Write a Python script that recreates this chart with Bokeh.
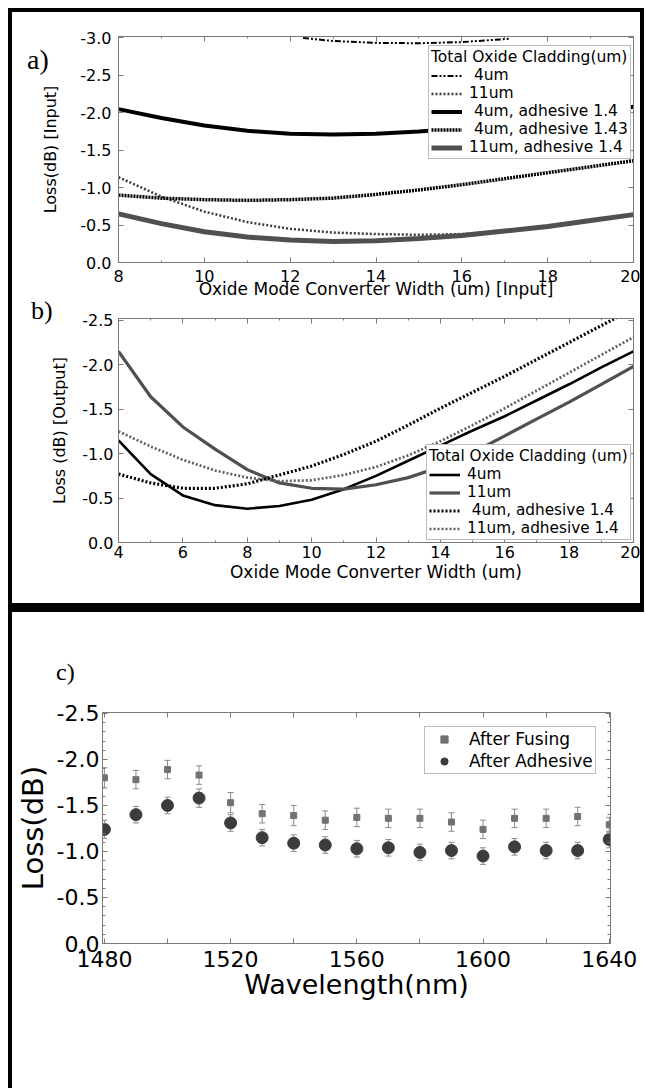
from bokeh.plotting import figure
from bokeh.models import (Range1d, LinearAxis, SingleIntervalTicker, FixedTicker,
                          PrintfTickFormatter, Legend, LegendItem, Whisker,
                          TeeHead, ColumnDataSource, Div)
from bokeh.layouts import column, row
from bokeh.embed import file_html
from bokeh.resources import INLINE

SANS = "DejaVu Sans"
SERIF = "Liberation Serif"
AXC = "#7a7a7a"
DARK_GRAY = "#505050"

# ---------------- Panel a data ----------------
a_width = [8, 9, 10, 11, 12, 13, 14, 15, 16, 17, 18, 19, 20]
a_4um_width = [12.3, 13, 14, 15, 16, 17, 17.1]
a_4um = [-3.0, -2.96, -2.935, -2.93, -2.945, -2.985, -2.99]
a_11um = [-1.14, -0.88, -0.68, -0.54, -0.45, -0.40, -0.38, -0.37, -0.38, -0.42, -0.48, -0.55, -0.64]
a_4um_adh14 = [-2.05, -1.93, -1.83, -1.76, -1.72, -1.71, -1.72, -1.75, -1.79, -1.84, -1.91, -1.99, -2.08]
a_4um_adh143 = [-0.90, -0.86, -0.84, -0.83, -0.84, -0.86, -0.91, -0.97, -1.04, -1.12, -1.20, -1.28, -1.36]
a_11um_adh14 = [-0.65, -0.52, -0.41, -0.34, -0.30, -0.28, -0.29, -0.32, -0.36, -0.42, -0.48, -0.56, -0.64]
a_labels = ["\u00a04um", "11um", "\u00a04um, adhesive 1.4", "\u00a04um, adhesive 1.43", "11um, adhesive 1.4"]
a_title = "Total Oxide Cladding(um)"

# ---------------- Panel b data ----------------
b_width = [4, 5, 6, 7, 8, 9, 10, 11, 12, 13, 14, 15, 16, 17, 18, 19, 20]
b_4um = [-1.15, -0.77, -0.53, -0.42, -0.38, -0.41, -0.48, -0.60, -0.75, -0.92, -1.09, -1.26, -1.42, -1.60, -1.78, -1.97, -2.15]
b_11um = [-2.15, -1.64, -1.30, -1.05, -0.82, -0.67, -0.61, -0.60, -0.65, -0.73, -0.85, -1.01, -1.20, -1.39, -1.58, -1.78, -1.98]
b_4um_adh14 = [-0.77, -0.67, -0.61, -0.61, -0.66, -0.76, -0.86, -0.99, -1.14, -1.32, -1.51, -1.69, -1.87, -2.06, -2.25, -2.44, -2.63]
b_11um_adh14 = [-1.25, -1.08, -0.93, -0.81, -0.73, -0.69, -0.70, -0.76, -0.85, -0.98, -1.14, -1.32, -1.51, -1.71, -1.91, -2.11, -2.31]
b_labels = ["4um", "11um", "\u00a04um, adhesive 1.4", "11um, adhesive 1.4"]
b_title = "Total Oxide Cladding (um)"

# ---------------- Panel c data ----------------
c_wavelength = [1480, 1490, 1500, 1510, 1520, 1530, 1540, 1550, 1560, 1570, 1580, 1590, 1600, 1610, 1620, 1630, 1640]
c_fusing = [-1.80, -1.78, -1.89, -1.83, -1.53, -1.41, -1.39, -1.34, -1.37, -1.36, -1.36, -1.32, -1.24, -1.36, -1.36, -1.38, -1.29]
c_fusing_err = [0.11, 0.10, 0.10, 0.10, 0.11, 0.10, 0.11, 0.10, 0.10, 0.10, 0.10, 0.10, 0.10, 0.10, 0.10, 0.10, 0.08]
c_adhesive = [-1.24, -1.40, -1.50, -1.58, -1.31, -1.15, -1.09, -1.07, -1.03, -1.04, -0.99, -1.01, -0.95, -1.05, -1.01, -1.01, -1.13]
c_adhesive_err = [0.10, 0.09, 0.09, 0.10, 0.09, 0.09, 0.09, 0.09, 0.09, 0.09, 0.09, 0.09, 0.09, 0.09, 0.09, 0.09, 0.09]
c_labels = ["After Fusing", "After Adhesive"]

panel_tags = ["a)", "b)", "c)"]

y_ticks_a = [0.0, -0.5, -1.0, -1.5, -2.0, -2.5, -3.0]
y_ticks_b = [0.0, -0.5, -1.0, -1.5, -2.0, -2.5]
y_ticks_c = [0.0, -0.5, -1.0, -1.5, -2.0, -2.5]
y_minor_c = [-0.1, -0.2, -0.3, -0.4, -0.6, -0.7, -0.8, -0.9, -1.1, -1.2, -1.3, -1.4,
             -1.6, -1.7, -1.8, -1.9, -2.1, -2.2, -2.3, -2.4]
x_ticks_c = [1480, 1520, 1560, 1600, 1640]
x_minor_c = [1500, 1540, 1580, 1620]


def base_fig(w, h, xr, yr, ml, mr, mt, mb):
    p = figure(width=w, height=h, x_range=xr, y_range=yr, output_backend="svg",
               toolbar_location=None, min_border_left=ml, min_border_right=mr,
               min_border_top=mt, min_border_bottom=mb)
    p.grid.visible = False
    p.outline_line_color = AXC
    p.outline_line_width = 1
    p.border_fill_color = "white"
    p.background_fill_color = "white"
    return p


def tick_style(ax, major_len=5, minor_len=2):
    ax.major_tick_in = major_len
    ax.major_tick_out = 0
    ax.minor_tick_in = minor_len
    ax.minor_tick_out = 0
    ax.axis_line_color = AXC
    ax.major_tick_line_color = AXC
    ax.minor_tick_line_color = AXC


def main_axis(ax, ticker, fmt, fsize, standoff, label, lsize, lstandoff, minor_len=2):
    ax.ticker = ticker
    if fmt is not None:
        ax.formatter = fmt
    tick_style(ax, 5, minor_len)
    ax.major_label_text_font = SANS
    ax.major_label_text_font_size = fsize
    ax.major_label_text_color = "black"
    ax.major_label_standoff = standoff
    ax.axis_label = label
    ax.axis_label_text_font = SANS
    ax.axis_label_text_font_size = lsize
    ax.axis_label_text_font_style = "normal"
    ax.axis_label_text_color = "black"
    ax.axis_label_standoff = lstandoff


def mirror_axes(p, xticker, yticker, xminor=2, yminor=2):
    for side, ticker, ml in (("above", xticker, xminor), ("right", yticker, yminor)):
        ax = LinearAxis(ticker=ticker, formatter=PrintfTickFormatter(format=""),
                        major_label_text_font_size="1px", major_label_standoff=0)
        tick_style(ax, 5, ml)
        p.add_layout(ax, side)


def style_legend(lg, fsize, title=None):
    if title is not None:
        lg.title = title
        lg.title_text_font = SANS
        lg.title_text_font_size = fsize
        lg.title_text_font_style = "normal"
        lg.title_text_color = "black"
        lg.title_standoff = 0
    lg.label_text_font = SANS
    lg.label_text_font_size = fsize
    lg.label_text_color = "black"
    lg.border_line_color = AXC
    lg.border_line_width = 1
    lg.background_fill_color = "white"
    lg.background_fill_alpha = 1.0
    lg.margin = 0


# ================= Panel a =================
pa = base_fig(628, 290, Range1d(8, 20), Range1d(0.0, -3.02), 106, 7, 24, 40)
xt_a = SingleIntervalTicker(interval=2, num_minor_ticks=2)
yt_a = FixedTicker(ticks=y_ticks_a)
main_axis(pa.xaxis[0], xt_a, None, "16px", 7, "Oxide Mode Converter Width (um) [Input]", "17px", -6)
main_axis(pa.yaxis[0], yt_a, PrintfTickFormatter(format="%.1f"), "16px", 7, "Loss(dB) [Input]", "16px", 17)
mirror_axes(pa, xt_a, yt_a)

ra1 = pa.line(a_4um_width, a_4um, line_color="black", line_width=2, line_dash="6 2 2 2 2 2")
ra2 = pa.line(a_width, a_11um, line_color="#3a3a3a", line_width=2.5, line_dash="2 2")
ra3 = pa.line(a_width, a_4um_adh14, line_color="black", line_width=4)
ra4 = pa.line(a_width, a_4um_adh143, line_color="black", line_width=3.5, line_dash="2 1")
ra5 = pa.line(a_width, a_11um_adh14, line_color=DARK_GRAY, line_width=5)

lga = Legend(items=[LegendItem(label=l, renderers=[r]) for l, r in zip(a_labels, [ra1, ra2, ra3, ra4, ra5])],
             location=(310, 103), glyph_width=31, glyph_height=15, label_height=15,
             label_standoff=7, spacing=0, padding=2)
style_legend(lga, "15.5px", a_title)
pa.add_layout(lga)

# ================= Panel b =================
pb = base_fig(628, 301, Range1d(4, 20), Range1d(0.0, -2.52), 100, 7, 16, 61)
xt_b = SingleIntervalTicker(interval=2, num_minor_ticks=2)
yt_b = FixedTicker(ticks=y_ticks_b)
main_axis(pb.xaxis[0], xt_b, None, "16px", 3, "Oxide Mode Converter Width (um)", "17px", 1)
main_axis(pb.yaxis[0], yt_b, PrintfTickFormatter(format="%.1f"), "16px", 5, "Loss (dB) [Output]", "16px", 10)
mirror_axes(pb, xt_b, yt_b)

rb1 = pb.line(b_width, b_4um, line_color="black", line_width=2.6)
rb2 = pb.line(b_width, b_11um, line_color=DARK_GRAY, line_width=3.2)
rb3 = pb.line(b_width, b_4um_adh14, line_color="black", line_width=3.2, line_dash="2 2")
rb4 = pb.line(b_width, b_11um_adh14, line_color="#606060", line_width=2.7, line_dash="2 2")

lgb = Legend(items=[LegendItem(label=l, renderers=[r]) for l, r in zip(b_labels, [rb1, rb2, rb3, rb4])],
             location=(308, 2), glyph_width=31, glyph_height=15, label_height=15,
             label_standoff=7, spacing=0, padding=2)
style_legend(lgb, "15.3px", b_title)
pb.add_layout(lgb)

# ================= Panel c =================
pc = base_fig(626, 476, Range1d(1479.4, 1640.4), Range1d(0.0, -2.51), 84, 28, 100, 145)
xt_c = FixedTicker(ticks=x_ticks_c, minor_ticks=x_minor_c)
yt_c = FixedTicker(ticks=y_ticks_c, minor_ticks=y_minor_c)
main_axis(pc.xaxis[0], xt_c, None, "22px", 7, "Wavelength(nm)", "27px", -1, minor_len=5)
main_axis(pc.yaxis[0], yt_c, PrintfTickFormatter(format="%.1f"), "22px", 3, "Loss(dB)", "29px", 4, minor_len=3)
mirror_axes(pc, xt_c, yt_c, xminor=5, yminor=3)

fus_src = ColumnDataSource(dict(
    x=c_wavelength, y=c_fusing,
    lower=[v - e for v, e in zip(c_fusing, c_fusing_err)],
    upper=[v + e for v, e in zip(c_fusing, c_fusing_err)]))
adh_src = ColumnDataSource(dict(
    x=c_wavelength, y=c_adhesive,
    lower=[v - e for v, e in zip(c_adhesive, c_adhesive_err)],
    upper=[v + e for v, e in zip(c_adhesive, c_adhesive_err)]))

for src in (fus_src, adh_src):
    pc.add_layout(Whisker(source=src, base="x", lower="lower", upper="upper", dimension="height",
                          line_color="#8a8a8a", line_width=1, level="underlay",
                          upper_head=TeeHead(size=6, line_color="#8a8a8a", line_width=1),
                          lower_head=TeeHead(size=6, line_color="#8a8a8a", line_width=1)))

rc1 = pc.scatter("x", "y", source=fus_src, marker="square", size=6,
                 fill_color="#727272", line_color="#727272")
rc2 = pc.scatter("x", "y", source=adh_src, marker="circle", size=12,
                 fill_color="#3c3c3c", line_color="#3c3c3c")

lgc = Legend(items=[LegendItem(label=l, renderers=[r]) for l, r in zip(c_labels, [rc1, rc2])],
             location=(322, 169), glyph_width=34, glyph_height=18, label_height=18,
             label_standoff=8, spacing=2, padding=2)
style_legend(lgc, "17px")
pc.add_layout(lgc)


# ================= Page layout with black frame =================
def bar(w, h, color="black"):
    return Div(text="", width=w, height=h, margin=0, styles={"background-color": color})


def tag(text, left, top, size):
    html = ('<span style="display:block;font-family:\'%s\';font-size:%dpx;line-height:1;'
            'color:black;white-space:nowrap">%s</span>' % (SERIF, size, text))
    return Div(text=html, width=40, height=34, margin=0,
               styles={"position": "absolute", "left": "%dpx" % left, "top": "%dpx" % top,
                       "z-index": "10", "pointer-events": "none"})


top_bar = bar(636, 4)
mid = row(bar(4, 591), column(pa, pb), bar(4, 591))
sep = bar(636, 9)
bot = row(bar(4, 476), pc)
framed = column(top_bar, mid, sep, bot)

page = column(bar(644, 8, "white"),
              row(bar(8, 8, "white"), framed),
              tag(panel_tags[0], 27, 46, 28),
              tag(panel_tags[1], 31, 298, 26),
              tag(panel_tags[2], 56, 660, 24))

open("out.html", "w").write(file_html(page, INLINE))
